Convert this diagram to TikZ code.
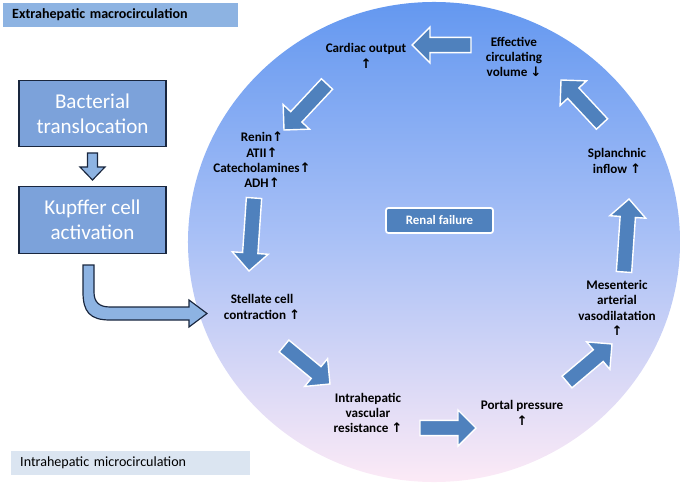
\documentclass[tikz,border=0pt]{standalone}
\usepackage{fontspec}
\setmainfont{Carlito}
\newfontfamily\arrowsfont{DejaVu Sans}
\usetikzlibrary{calc}

\definecolor{cycblue}{RGB}{79,129,189}
\definecolor{boxblue}{RGB}{124,162,218}
\definecolor{pipeblue}{RGB}{141,179,226}
\definecolor{navyline}{RGB}{25,38,62}
\definecolor{hdrblue}{RGB}{141,179,226}
\definecolor{hdrpale}{RGB}{219,229,241}
\definecolor{circtop}{RGB}{100,152,240}
\definecolor{circmid}{RGB}{170,193,246}
\definecolor{circbot}{RGB}{252,234,246}

\newcommand{\upar}{{\arrowsfont ↑}}
\newcommand{\dnar}{{\arrowsfont ↓}}

% block arrow of the cycle, from #1 (tail) to #2 (tip)
\newcommand{\cyclearrow}[2]{%
  \coordinate (hb) at ($(#2)!0.54cm!(#1)$);
  \path[cycarrow] ($(#1)!0.23cm!90:(#2)$) -- ($(hb)!0.23cm!90:(#2)$)
    -- ($(hb)!0.54cm!90:(#2)$) -- (#2) -- ($(hb)!0.54cm!-90:(#2)$)
    -- ($(hb)!0.23cm!-90:(#2)$) -- ($(#1)!0.23cm!-90:(#2)$) -- cycle;}

\begin{document}
\begin{tikzpicture}[x=0.03cm, y=-0.03cm,
  lbl/.style={align=center, font=\fontsize{11.2}{13}\selectfont\bfseries, inner sep=1pt},
  hdr/.style={anchor=west, minimum height=0.72cm, inner xsep=0.27cm,
    align=left, font=\fontsize{12}{14}\selectfont},
  stage/.style={draw=navyline, line width=1pt, fill=boxblue, text=white,
    minimum width=4.41cm, minimum height=2cm, align=center,
    font=\fontsize{18}{21.5}\selectfont},
  renal/.style={draw=white, line width=1.5pt, rounded corners=2pt, fill=cycblue,
    text=white, minimum width=3.21cm, minimum height=0.75cm,
    font=\fontsize{11}{13}\selectfont\bfseries},
  cycarrow/.style={fill=cycblue, draw=white, line width=1.2pt, line join=miter},
  pipe/.style={fill=pipeblue, draw=navyline, line width=1pt, line join=miter},
]
\useasboundingbox (0,0) rectangle (685,484);

% ── Background: the circle ──
\path[top color=circtop, bottom color=circbot, middle color=circmid]
  (434,242) ellipse [x radius=7.38cm, y radius=7.2cm];

% ── Headers ──
\node[hdr, fill=hdrblue, text width=6.51cm] (extra) at (3,15)
  {\bfseries Extrahepatic macrocirculation};
\node[hdr, fill=hdrpale, text width=6.63cm] (intra) at (11,462.5)
  {Intrahepatic microcirculation};

% ── Left column ──
\node[stage] (bact) at (92.5,113.5) {Bacterial\\translocation};
\node[stage] (kupf) at (92.5,220) {Kupffer cell\\activation};

\path[pipe] (87.5,153) -- (97.5,153) -- (97.5,167) -- (105,167) -- (92.5,180)
  -- (80,167) -- (87.5,167) -- cycle;
\path[pipe] (83,265) -- (83,292) .. controls (83,312) and (90,320) .. (110,320)
  -- (189,320) -- (189,327) -- (207,313.5) -- (189,300) -- (189,307) -- (110,307)
  .. controls (99,307) and (94,302) .. (94,292) -- (94,265) -- cycle;

% ── Cycle labels ──
\node[renal] (renal) at (439.5,220.5) {Renal failure};
\node[lbl] (card) at (366,56) {Cardiac output\\\upar};
\node[lbl] (ecv) at (514,57) {Effective\\circulating\\volume \dnar};
\node[lbl] (raas) at (262,160) {Renin\upar\\ATII\upar\\Catecholamines\upar\\ADH\upar};
\node[lbl] (stel) at (262,307) {Stellate cell\\contraction \upar};
\node[lbl] (ivr) at (368,413) {Intrahepatic\\vascular\\resistance \upar};
\node[lbl] (portal) at (522,413) {Portal pressure\\\upar};
\node[lbl] (mesen) at (617,308) {Mesenteric\\arterial\\vasodilatation\\\upar};
\node[lbl] (splan) at (617,161) {Splanchnic\\inflow \upar};

% ── Cycle arrows ──
\coordinate (ecv-out) at (471,45);    \coordinate (card-in) at (412,45);
\coordinate (card-out) at (327,84);   \coordinate (raas-in) at (284,130);
\coordinate (raas-out) at (254,198);  \coordinate (stel-in) at (249,271);
\coordinate (stel-out) at (284,346);  \coordinate (ivr-in) at (330,384);
\coordinate (ivr-out) at (420,428);   \coordinate (portal-in) at (476,428);
\coordinate (portal-out) at (567,382);\coordinate (mesen-in) at (612,344);
\coordinate (mesen-out) at (624,272); \coordinate (splan-in) at (629,199);
\coordinate (splan-out) at (602,124); \coordinate (ecv-in) at (561,80);

\cyclearrow{ecv-out}{card-in}
\cyclearrow{card-out}{raas-in}
\cyclearrow{raas-out}{stel-in}
\cyclearrow{stel-out}{ivr-in}
\cyclearrow{ivr-out}{portal-in}
\cyclearrow{portal-out}{mesen-in}
\cyclearrow{mesen-out}{splan-in}
\cyclearrow{splan-out}{ecv-in}
\end{tikzpicture}
\end{document}
